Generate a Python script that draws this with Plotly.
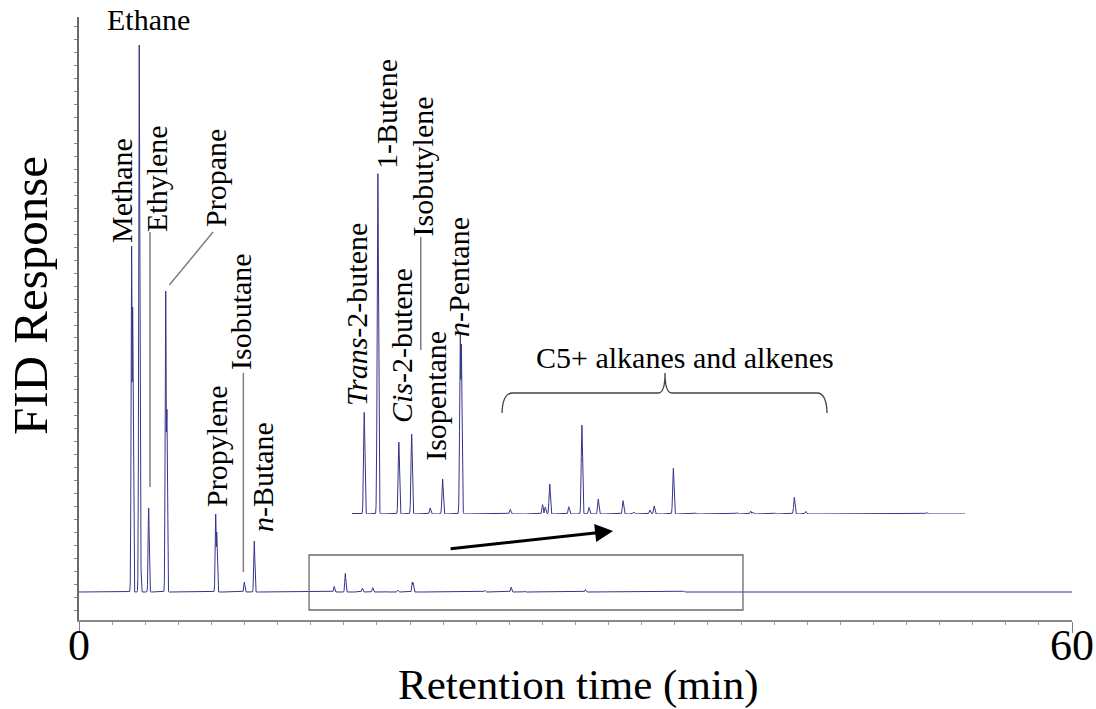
import numpy as np
import plotly.graph_objects as go

# ---- data: peak retention times (min) and heights (FID response, arbitrary units)
peak_times = [3.18, 3.24, 3.64, 3.70, 4.21, 5.24, 5.30, 8.26, 8.32, 9.99, 10.59,
              15.42, 16.09, 17.12, 17.75, 18.66, 19.27, 20.14, 20.19, 22.59,
              24.18, 24.31, 24.53, 25.47, 26.11, 26.46, 26.91, 28.13, 28.65,
              29.45, 29.66, 30.60, 31.70, 33.73, 34.40, 34.51, 35.59, 36.54,
              37.10, 43.04]
peak_heights = [346, 285, 547, 79, 84, 301, 207, 78, 60, 10, 51,
                5.55, 18.63, 3.93, 4.37, 0.33, 1.91, 9.87, 9.3, 0.25,
                0.51, 0.38, 1.64, 0.40, 4.86, 0.36, 0.82, 0.73, 0.11,
                0.22, 0.44, 2.49, 0.05, 0.08, 0.16, 0.11, 0.05, 0.91,
                0.14, 0.08]
peak_width = 0.032  # min (gaussian sigma)

x_ticks = [0, 60]
x_tick_text = ["0", "60"]

# labels: (text, x[min], y[response], angle)
labels = [
    ("Ethane", 4.17, 573, 0),
    ("Methane", 2.54, 401, -90),
    ("Ethylene", 4.65, 414, -90),
    ("Propane", 8.22, 414, -90),
    ("Propylene", 8.28, 146, -90),
    ("Isobutane", 9.73, 280, -90),
    ("<i>n</i>-Butane", 11.06, 115, -90),
    ("<i>Trans</i>-2-butene", 16.74, 277, -90),
    ("1-Butene", 18.55, 478, -90),
    ("<i>Cis</i>-2-butene", 19.46, 246, -90),
    ("Isobutylene", 20.75, 426, -90),
    ("Isopentane", 21.50, 196, -90),
    ("<i>n</i>-Pentane", 22.90, 315, -90),
    ("C5+ alkanes and alkenes", 36.62, 235, 0),
]
leaders = [  # (x0, y0, x1, y1)
    (4.29, 360, 4.29, 105),
    (5.46, 307, 8.10, 360),
    (9.93, 219, 9.93, 20),
    (20.65, 355, 20.65, 242),
]

# ---- build chromatogram trace
t = np.arange(0, 60.0001, 0.004)
signal = np.zeros_like(t)
for tc, h in zip(peak_times, peak_heights):
    signal = np.maximum(signal, h * np.exp(-0.5 * ((t - tc) / peak_width) ** 2))

line_color = "#34348a"
FONT = "Times New Roman, Liberation Serif, Tinos, serif"

fig = go.Figure()
fig.add_trace(go.Scatter(x=t, y=signal, mode="lines",
                         line=dict(color=line_color, width=1),
                         xaxis="x", yaxis="y", hoverinfo="skip"))
fig.add_trace(go.Scatter(x=t, y=signal, mode="lines",
                         line=dict(color=line_color, width=1),
                         xaxis="x2", yaxis="y2", hoverinfo="skip"))

annotations = []
for txt, ax_, ay_, ang in labels:
    annotations.append(dict(x=ax_, y=ay_, xref="x", yref="y", text=txt,
                            textangle=ang, showarrow=False,
                            xanchor="center", yanchor="middle",
                            font=dict(family=FONT, size=30, color="black")))
# axis titles in paper coordinates
annotations.append(dict(x=(578 - 79) / 993, y=(620 - 685) / 603,
                        xref="paper", yref="paper",
                        xanchor="center", yanchor="middle",
                        text="Retention time (min)", showarrow=False,
                        font=dict(family=FONT, size=43, color="black")))
annotations.append(dict(x=(30 - 79) / 993, y=(620 - 296) / 603,
                        xref="paper", yref="paper",
                        xanchor="center", yanchor="middle",
                        text="FID Response", textangle=-90, showarrow=False,
                        font=dict(family=FONT, size=49, color="black")))
# arrow from box to inset
annotations.append(dict(x=32.27, y=61, ax=22.36, ay=43, xref="x", yref="y",
                        axref="x", ayref="y", text="", showarrow=True,
                        arrowhead=2, arrowsize=1.2, arrowwidth=3,
                        arrowcolor="black"))

shapes = []
for x0, y0, x1, y1 in leaders:
    shapes.append(dict(type="line", x0=x0, y0=y0, x1=x1, y1=y1,
                       xref="x", yref="y",
                       line=dict(color="#7f7f7f", width=1.5)))
shapes.append(dict(type="rect", x0=13.90, x1=40.12, y0=-18, y1=37,
                   xref="x", yref="y", line=dict(color="#6a6a6a", width=1.3)))
shapes.append(dict(type="path", xref="x", yref="y",
                   path="M 25.56,179 Q 25.6,199 26.2,199 L 35.0,199 "
                        "Q 35.41,199 35.41,219 Q 35.41,199 35.82,199 "
                        "L 44.6,199 Q 45.16,199 45.2,179",
                   line=dict(color="#444444", width=1.3)))

fig.update_layout(
    width=1096, height=709,
    margin=dict(l=79, r=24, t=17, b=89, autoexpand=False),
    paper_bgcolor="white", plot_bgcolor="white",
    showlegend=False,
    font=dict(family=FONT),
    xaxis=dict(range=[0, 60], domain=[0, 1], anchor="y", automargin=False,
               tickvals=x_ticks, ticktext=x_tick_text,
               ticks="outside", ticklen=11, tickcolor="#7f7f7f",
               ticklabelstandoff=-26,
               showline=True, linecolor="#8a8a8a", linewidth=1.5,
               showgrid=False, zeroline=False,
               minor=dict(dtick=2, tick0=0, ticks="outside", ticklen=3,
                          tickcolor="#9a9a9a", showgrid=False),
               tickfont=dict(family=FONT, size=44, color="black")),
    yaxis=dict(range=[-28, 575], domain=[0, 1], anchor="x", automargin=False,
               showline=True, linecolor="#6a6a6a", linewidth=1.5,
               ticks="outside", ticklen=3, tickcolor="#8a8a8a",
               tick0=-18.35, dtick=12.97, showticklabels=False,
               showgrid=False, zeroline=False),
    xaxis2=dict(range=[14.82, 44.92], domain=[0.2749, 0.8922],
                anchor="y2", visible=False),
    yaxis2=dict(range=[0, 19.34], domain=[0.1758, 0.7629],
                anchor="x2", visible=False),
    annotations=annotations,
    shapes=shapes,
)

fig.write_html("out.html")
